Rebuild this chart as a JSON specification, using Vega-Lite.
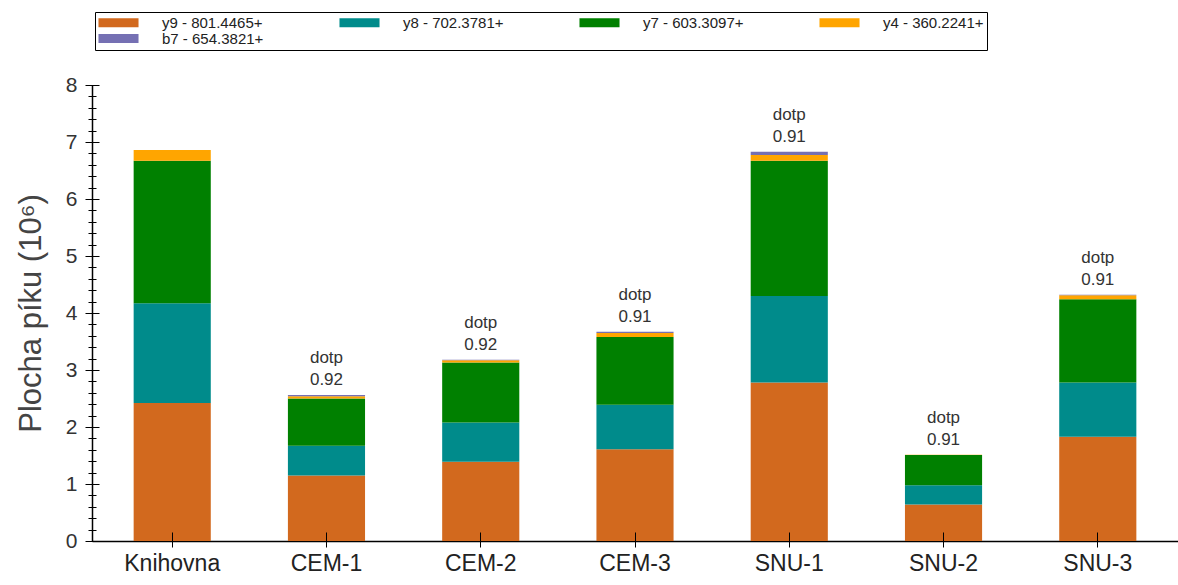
{
  "$schema": "https://vega.github.io/schema/vega-lite/v6.json",
  "autosize": {"type": "none"},
  "width": 1086,
  "height": 456,
  "padding": {"left": 92, "top": 85, "right": 0, "bottom": 44},
  "background": "white",
  "config": {"view": {"stroke": null}, "font": "Liberation Sans"},
  "resolve": {"axis": {"y": "independent", "x": "independent"}},
  "data": {"values": [
    {"sample": "Knihovna", "ion": "y9 - 801.4465+", "value": 2.42, "dotp": null},
    {"sample": "Knihovna", "ion": "y8 - 702.3781+", "value": 1.75, "dotp": null},
    {"sample": "Knihovna", "ion": "y7 - 603.3097+", "value": 2.50, "dotp": null},
    {"sample": "Knihovna", "ion": "y4 - 360.2241+", "value": 0.19, "dotp": null},
    {"sample": "Knihovna", "ion": "b7 - 654.3821+", "value": 0.0, "dotp": null},
    {"sample": "CEM-1", "ion": "y9 - 801.4465+", "value": 1.15, "dotp": "0.92"},
    {"sample": "CEM-1", "ion": "y8 - 702.3781+", "value": 0.52, "dotp": "0.92"},
    {"sample": "CEM-1", "ion": "y7 - 603.3097+", "value": 0.83, "dotp": "0.92"},
    {"sample": "CEM-1", "ion": "y4 - 360.2241+", "value": 0.04, "dotp": "0.92"},
    {"sample": "CEM-1", "ion": "b7 - 654.3821+", "value": 0.02, "dotp": "0.92"},
    {"sample": "CEM-2", "ion": "y9 - 801.4465+", "value": 1.39, "dotp": "0.92"},
    {"sample": "CEM-2", "ion": "y8 - 702.3781+", "value": 0.69, "dotp": "0.92"},
    {"sample": "CEM-2", "ion": "y7 - 603.3097+", "value": 1.05, "dotp": "0.92"},
    {"sample": "CEM-2", "ion": "y4 - 360.2241+", "value": 0.04, "dotp": "0.92"},
    {"sample": "CEM-2", "ion": "b7 - 654.3821+", "value": 0.01, "dotp": "0.92"},
    {"sample": "CEM-3", "ion": "y9 - 801.4465+", "value": 1.61, "dotp": "0.91"},
    {"sample": "CEM-3", "ion": "y8 - 702.3781+", "value": 0.78, "dotp": "0.91"},
    {"sample": "CEM-3", "ion": "y7 - 603.3097+", "value": 1.19, "dotp": "0.91"},
    {"sample": "CEM-3", "ion": "y4 - 360.2241+", "value": 0.07, "dotp": "0.91"},
    {"sample": "CEM-3", "ion": "b7 - 654.3821+", "value": 0.02, "dotp": "0.91"},
    {"sample": "SNU-1", "ion": "y9 - 801.4465+", "value": 2.78, "dotp": "0.91"},
    {"sample": "SNU-1", "ion": "y8 - 702.3781+", "value": 1.52, "dotp": "0.91"},
    {"sample": "SNU-1", "ion": "y7 - 603.3097+", "value": 2.37, "dotp": "0.91"},
    {"sample": "SNU-1", "ion": "y4 - 360.2241+", "value": 0.10, "dotp": "0.91"},
    {"sample": "SNU-1", "ion": "b7 - 654.3821+", "value": 0.06, "dotp": "0.91"},
    {"sample": "SNU-2", "ion": "y9 - 801.4465+", "value": 0.64, "dotp": "0.91"},
    {"sample": "SNU-2", "ion": "y8 - 702.3781+", "value": 0.34, "dotp": "0.91"},
    {"sample": "SNU-2", "ion": "y7 - 603.3097+", "value": 0.53, "dotp": "0.91"},
    {"sample": "SNU-2", "ion": "y4 - 360.2241+", "value": 0.005, "dotp": "0.91"},
    {"sample": "SNU-2", "ion": "b7 - 654.3821+", "value": 0.0, "dotp": "0.91"},
    {"sample": "SNU-3", "ion": "y9 - 801.4465+", "value": 1.83, "dotp": "0.91"},
    {"sample": "SNU-3", "ion": "y8 - 702.3781+", "value": 0.95, "dotp": "0.91"},
    {"sample": "SNU-3", "ion": "y7 - 603.3097+", "value": 1.46, "dotp": "0.91"},
    {"sample": "SNU-3", "ion": "y4 - 360.2241+", "value": 0.07, "dotp": "0.91"},
    {"sample": "SNU-3", "ion": "b7 - 654.3821+", "value": 0.01, "dotp": "0.91"}
  ]},
  "layer": [
    {
      "mark": {"type": "bar"},
      "encoding": {
        "x": {
          "field": "sample", "type": "nominal", "sort": null,
          "scale": {"paddingInner": 0.5, "paddingOuter": 0.27},
          "axis": {
            "orient": "bottom", "offset": -9, "domain": false,
            "title": null, "labelAngle": 0, "labelFontSize": 23, "labelColor": "#222",
            "labelFont": "Liberation Sans", "labelPadding": 5,
            "tickColor": "black", "tickSize": 15, "grid": false, "zindex": 1
          }
        },
        "y": {
          "field": "value", "type": "quantitative", "stack": "zero",
          "scale": {"domain": [0, 8], "nice": false},
          "axis": {
            "orient": "left", "offset": -7, "domain": false,
            "title": "Plocha píku (10⁶)", "titleFontSize": 31, "titleFontWeight": "normal",
            "titleColor": "#444", "titlePadding": 18, "titleFont": "Liberation Sans",
            "values": [0, 1, 2, 3, 4, 5, 6, 7, 8], "format": "d", "labelOverlap": false,
            "labelFontSize": 21, "labelColor": "#333", "labelPadding": 8,
            "tickColor": "black", "tickSize": 14, "grid": false,
            "zindex": 1
          }
        },
        "color": {
          "field": "ion", "type": "nominal",
          "sort": ["y9 - 801.4465+", "y8 - 702.3781+", "y7 - 603.3097+", "y4 - 360.2241+", "b7 - 654.3821+"],
          "scale": {
            "domain": ["y9 - 801.4465+", "y8 - 702.3781+", "y7 - 603.3097+", "y4 - 360.2241+", "b7 - 654.3821+"],
            "range": ["#D2691E", "#008B8B", "#008000", "#FFA500", "#7570B3"]
          },
          "legend": {
            "title": null, "orient": "none", "legendX": 3, "legendY": -73,
            "direction": "horizontal", "columns": 4, "columnPadding": 75, "rowPadding": 0,
            "symbolType": "M-2.67,-0.6H2.67V0.6H-2.67Z", "symbolSize": 225, "symbolStrokeWidth": 0,
            "symbolOffset": 13,
            "labelFontSize": 15, "labelFont": "Liberation Sans", "labelColor": "#222",
            "labelOffset": 36, "strokeColor": "black", "padding": 3, "fillColor": "white"
          }
        }
      }
    },
    {
      "transform": [
        {"filter": "datum.dotp != null"},
        {"aggregate": [{"op": "sum", "field": "value", "as": "total"}], "groupby": ["sample", "dotp"]}
      ],
      "mark": {"type": "text", "baseline": "bottom", "dy": -28, "fontSize": 17, "color": "#333", "font": "Liberation Sans"},
      "encoding": {
        "x": {
          "field": "sample", "type": "nominal", "sort": null,
          "axis": {
            "orient": "bottom", "title": null, "labels": false, "ticks": false,
            "domain": true, "domainColor": "black", "domainWidth": 1.5, "grid": false
          }
        },
        "y": {
          "field": "total", "type": "quantitative",
          "axis": {
            "orient": "left", "offset": -4, "title": null, "labels": false, "domain": false,
            "values": [0.2,0.4,0.6,0.8,1.2,1.4,1.6,1.8,2.2,2.4,2.6,2.8,3.2,3.4,3.6,3.8,4.2,4.4,4.6,4.8,5.2,5.4,5.6,5.8,6.2,6.4,6.6,6.8,7.2,7.4,7.6,7.8],
            "tickColor": "black", "tickSize": 8, "grid": false, "zindex": 1
          }
        },
        "text": {"value": "dotp"}
      }
    },
    {
      "transform": [
        {"filter": "datum.dotp != null"},
        {"aggregate": [{"op": "sum", "field": "value", "as": "total"}], "groupby": ["sample", "dotp"]}
      ],
      "mark": {"type": "text", "baseline": "bottom", "dy": -6, "fontSize": 17, "color": "#333", "font": "Liberation Sans"},
      "encoding": {
        "x": {"field": "sample", "type": "nominal", "sort": null, "axis": null},
        "y": {
          "field": "total", "type": "quantitative",
          "axis": {
            "orient": "left", "title": null, "labels": false, "ticks": false,
            "domain": true, "domainColor": "black", "domainWidth": 1.5, "grid": false
          }
        },
        "text": {"field": "dotp"}
      }
    }
  ]
}
